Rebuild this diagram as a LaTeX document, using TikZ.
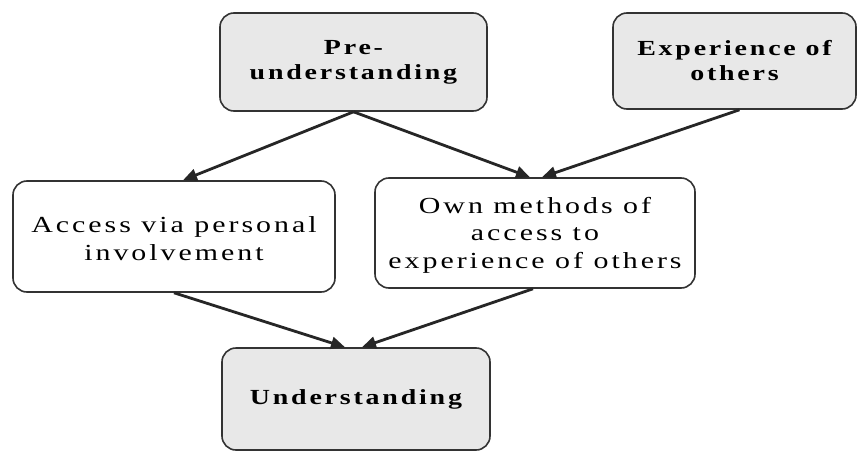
\documentclass[tikz,border=0pt]{standalone}
\usepackage{fontspec}
\setmainfont{Liberation Serif}[FakeStretch=1.3, LetterSpace=13]
\usetikzlibrary{arrows.meta}
\begin{document}
\begin{tikzpicture}[x=1pt,y=-1pt,
  box/.style={draw=black!80, line width=1.6pt, rounded corners=14pt,
    align=center, inner sep=0pt, font=\fontsize{23}{27.5}\selectfont},
  shaded/.style={box, fill=black!9, font=\fontsize{21.5}{25}\selectfont\bfseries},
  plain/.style={box, fill=white},
  link/.style={draw=black!85, line width=2.8pt,
    -{Triangle[length=14pt,width=12pt]}, shorten >=0pt}]
  \useasboundingbox (0,0) rectangle (859,452);
  \fill[white] (0,0) rectangle (859,452);

  % boxes
  \node[shaded, minimum width=267pt, minimum height=98pt] (pre) at (353.5,62)
    {Pre-\\understanding};
  \node[shaded, minimum width=243pt, minimum height=96pt] (exp) at (734.5,61)
    {Experience of\\others};
  \node[plain, minimum width=322pt, minimum height=111pt] (acc) at (174,236.5)
    {\rule{0pt}{20pt}Access via personal\\involvement};
  \node[plain, minimum width=320pt, minimum height=110pt] (own) at (535,233)
    {\rule{0pt}{20pt}Own methods of\\access to\\experience of others};
  \node[shaded, minimum width=268pt, minimum height=102pt] (und) at (356,399)
    {Understanding};

  % connectors
  \draw[link] (pre.south) -- ([xshift=9pt]acc.north);
  \draw[link] (pre.south) -- ([xshift=-5pt]own.north);
  \draw[link] ([xshift=5pt]exp.south) -- ([xshift=7pt]own.north);
  \draw[link] (acc.south) -- ([xshift=-11pt]und.north);
  \draw[link] ([xshift=-2pt]own.south) -- ([xshift=6pt]und.north);
\end{tikzpicture}
\end{document}
